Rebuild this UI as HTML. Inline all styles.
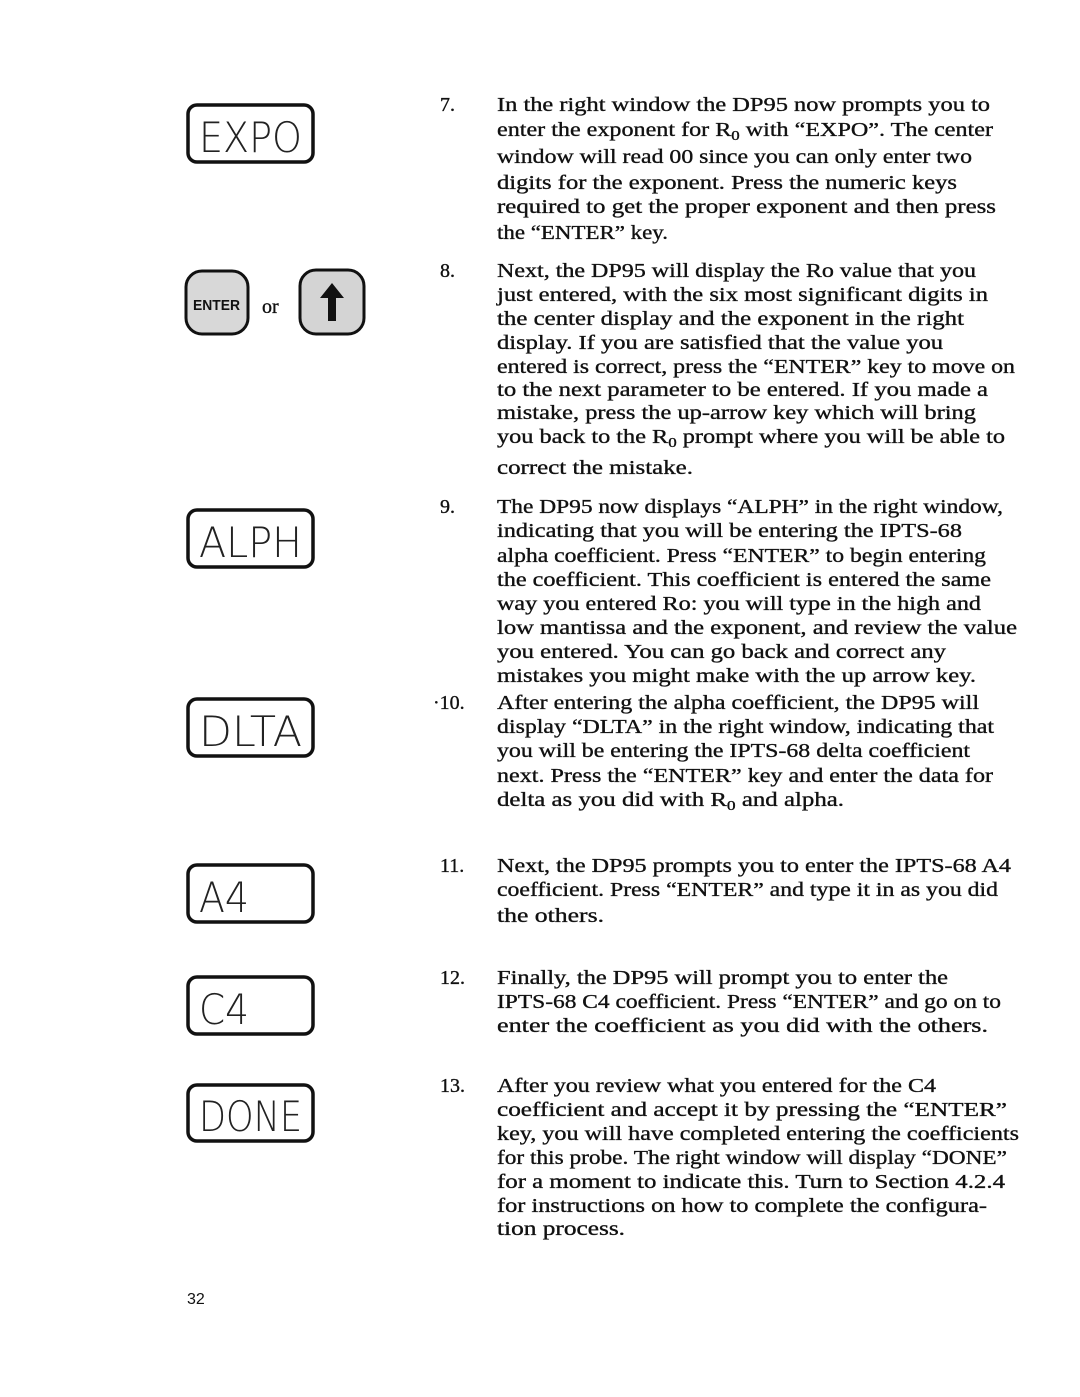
<!DOCTYPE html>
<html><head><meta charset="utf-8"><style>
html,body{margin:0;padding:0;background:#fff;}
svg{display:block}
.t{font-family:"Liberation Serif",serif;font-size:20px;fill:#111;stroke:#111;stroke-width:0.35}
.lcd{font-family:"DejaVu Sans","Liberation Sans",sans-serif;font-weight:200;font-size:30px;fill:#222}
</style></head><body>
<svg width="1080" height="1397" viewBox="0 0 1080 1397" xmlns="http://www.w3.org/2000/svg">
<g fill="none" stroke="#111" stroke-width="3.5">
<rect x="188" y="105" width="125" height="57" rx="9"/>
<rect x="188" y="510" width="125" height="57" rx="9"/>
<rect x="188" y="699" width="125" height="57" rx="9"/>
<rect x="188" y="865" width="125" height="57" rx="9"/>
<rect x="188" y="977" width="125" height="57" rx="9"/>
<rect x="188" y="1085" width="125" height="56" rx="9"/>
</g>
<g class="lcd">
<text transform="translate(199,152) scale(1,1.4)" textLength="103" lengthAdjust="spacingAndGlyphs">EXPO</text>
<text transform="translate(199,557) scale(1,1.4)" textLength="103" lengthAdjust="spacingAndGlyphs">ALPH</text>
<text transform="translate(199,746) scale(1,1.4)" textLength="103" lengthAdjust="spacingAndGlyphs">DLTA</text>
<text transform="translate(199,912) scale(1,1.4)" textLength="50" lengthAdjust="spacingAndGlyphs">A4</text>
<text transform="translate(199,1024) scale(1,1.4)" textLength="50" lengthAdjust="spacingAndGlyphs">C4</text>
<text transform="translate(199,1131) scale(1,1.4)" textLength="103" lengthAdjust="spacingAndGlyphs">DONE</text>
</g>
<rect x="186" y="271" width="62" height="63" rx="16" fill="#d8d8d8" stroke="#111" stroke-width="3"/>
<text x="193" y="310" font-family="Liberation Sans,sans-serif" font-size="15" font-weight="bold" fill="#111" textLength="47" lengthAdjust="spacingAndGlyphs">ENTER</text>
<text x="262" y="313" class="t" font-size="22">or</text>
<rect x="300" y="270" width="64" height="64" rx="16" fill="#d4d4d4" stroke="#111" stroke-width="3"/>
<path d="M332 283 L344 298 L336 298 L336 321 L328 321 L328 298 L320 298 Z" fill="#111"/>
<g class="t">
<text x="440" y="111">7.</text>
<text x="440" y="277">8.</text>
<text x="440" y="513">9.</text>
<text x="433" y="709">·10.</text>
<text x="440" y="872">11.</text>
<text x="440" y="984">12.</text>
<text x="440" y="1092">13.</text>
<text x="187" y="1304" font-family="Liberation Sans,sans-serif" font-size="16" stroke-width="0">32</text>
</g>
<g class="t">
<text x="497" y="111" textLength="493" lengthAdjust="spacingAndGlyphs">In the right window the DP95 now prompts you to</text>
<text x="497" y="136" textLength="496" lengthAdjust="spacingAndGlyphs">enter the exponent for R<tspan font-size="14" dy="4">0</tspan><tspan dy="-4"> with “EXPO”. The center</tspan></text>
<text x="497" y="163" textLength="475" lengthAdjust="spacingAndGlyphs">window will read 00 since you can only enter two</text>
<text x="497" y="189" textLength="460" lengthAdjust="spacingAndGlyphs">digits for the exponent. Press the numeric keys</text>
<text x="497" y="213" textLength="499" lengthAdjust="spacingAndGlyphs">required to get the proper exponent and then press</text>
<text x="497" y="239" textLength="171" lengthAdjust="spacingAndGlyphs">the “ENTER” key.</text>

<text x="497" y="277" textLength="479" lengthAdjust="spacingAndGlyphs">Next, the DP95 will display the Ro value that you</text>
<text x="497" y="301" textLength="491" lengthAdjust="spacingAndGlyphs">just entered, with the six most significant digits in</text>
<text x="497" y="325" textLength="467" lengthAdjust="spacingAndGlyphs">the center display and the exponent in the right</text>
<text x="497" y="349" textLength="446" lengthAdjust="spacingAndGlyphs">display. If you are satisfied that the value you</text>
<text x="497" y="373" textLength="518" lengthAdjust="spacingAndGlyphs">entered is correct, press the “ENTER” key to move on</text>
<text x="497" y="396" textLength="491" lengthAdjust="spacingAndGlyphs">to the next parameter to be entered. If you made a</text>
<text x="497" y="419" textLength="479" lengthAdjust="spacingAndGlyphs">mistake, press the up-arrow key which will bring</text>
<text x="497" y="443" textLength="508" lengthAdjust="spacingAndGlyphs">you back to the R<tspan font-size="14" dy="4">0</tspan><tspan dy="-4"> prompt where you will be able to</tspan></text>
<text x="497" y="474" textLength="196" lengthAdjust="spacingAndGlyphs">correct the mistake.</text>

<text x="497" y="513" textLength="506" lengthAdjust="spacingAndGlyphs">The DP95 now displays “ALPH” in the right window,</text>
<text x="497" y="537" textLength="465" lengthAdjust="spacingAndGlyphs">indicating that you will be entering the IPTS-68</text>
<text x="497" y="562" textLength="489" lengthAdjust="spacingAndGlyphs">alpha coefficient. Press “ENTER” to begin entering</text>
<text x="497" y="586" textLength="494" lengthAdjust="spacingAndGlyphs">the coefficient. This coefficient is entered the same</text>
<text x="497" y="610" textLength="484" lengthAdjust="spacingAndGlyphs">way you entered Ro: you will type in the high and</text>
<text x="497" y="634" textLength="520" lengthAdjust="spacingAndGlyphs">low mantissa and the exponent, and review the value</text>
<text x="497" y="658" textLength="449" lengthAdjust="spacingAndGlyphs">you entered. You can go back and correct any</text>
<text x="497" y="682" textLength="479" lengthAdjust="spacingAndGlyphs">mistakes you might make with the up arrow key.</text>

<text x="497" y="709" textLength="482" lengthAdjust="spacingAndGlyphs">After entering the alpha coefficient, the DP95 will</text>
<text x="497" y="733" textLength="497" lengthAdjust="spacingAndGlyphs">display “DLTA” in the right window, indicating that</text>
<text x="497" y="757" textLength="473" lengthAdjust="spacingAndGlyphs">you will be entering the IPTS-68 delta coefficient</text>
<text x="497" y="782" textLength="496" lengthAdjust="spacingAndGlyphs">next. Press the “ENTER” key and enter the data for</text>
<text x="497" y="806" textLength="347" lengthAdjust="spacingAndGlyphs">delta as you did with R<tspan font-size="14" dy="4">0</tspan><tspan dy="-4"> and alpha.</tspan></text>

<text x="497" y="872" textLength="514" lengthAdjust="spacingAndGlyphs">Next, the DP95 prompts you to enter the IPTS-68 A4</text>
<text x="497" y="896" textLength="501" lengthAdjust="spacingAndGlyphs">coefficient. Press “ENTER” and type it in as you did</text>
<text x="497" y="922" textLength="107" lengthAdjust="spacingAndGlyphs">the others.</text>

<text x="497" y="984" textLength="451" lengthAdjust="spacingAndGlyphs">Finally, the DP95 will prompt you to enter the</text>
<text x="497" y="1008" textLength="504" lengthAdjust="spacingAndGlyphs">IPTS-68 C4 coefficient. Press “ENTER” and go on to</text>
<text x="497" y="1032" textLength="491" lengthAdjust="spacingAndGlyphs">enter the coefficient as you did with the others.</text>

<text x="497" y="1092" textLength="439" lengthAdjust="spacingAndGlyphs">After you review what you entered for the C4</text>
<text x="497" y="1116" textLength="510" lengthAdjust="spacingAndGlyphs">coefficient and accept it by pressing the “ENTER”</text>
<text x="497" y="1140" textLength="522" lengthAdjust="spacingAndGlyphs">key, you will have completed entering the coefficients</text>
<text x="497" y="1164" textLength="510" lengthAdjust="spacingAndGlyphs">for this probe. The right window will display “DONE”</text>
<text x="497" y="1188" textLength="508" lengthAdjust="spacingAndGlyphs">for a moment to indicate this. Turn to Section 4.2.4</text>
<text x="497" y="1212" textLength="490" lengthAdjust="spacingAndGlyphs">for instructions on how to complete the configura-</text>
<text x="497" y="1235" textLength="128" lengthAdjust="spacingAndGlyphs">tion process.</text>
</g>
</svg>
</body></html>
